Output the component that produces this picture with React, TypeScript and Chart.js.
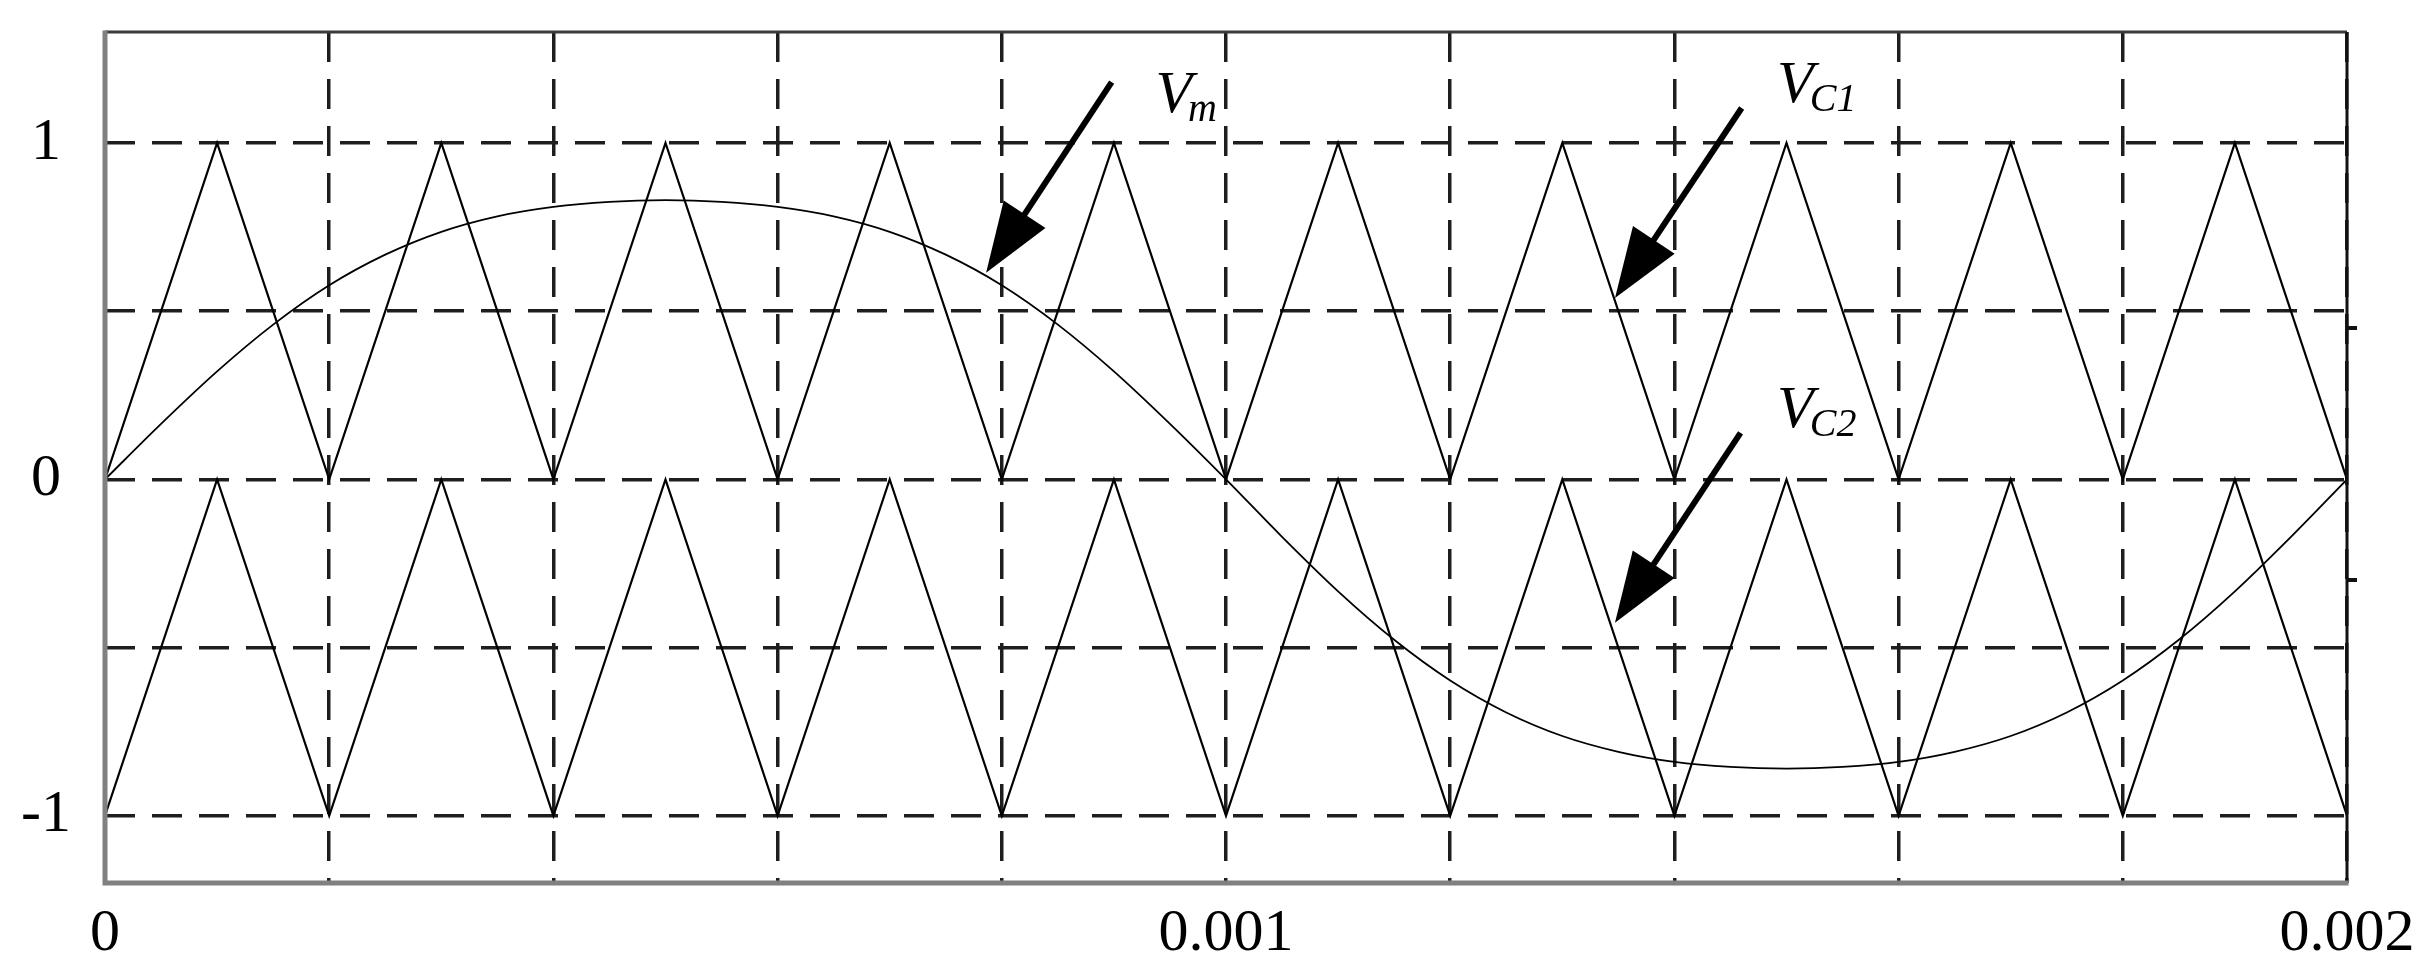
import React, { useEffect, useRef } from 'react';
import { Chart, registerables } from 'chart.js';

Chart.register(...registerables);

// ---- data ----
const carrierTimes = [0, 0.0001, 0.0002, 0.0003, 0.0004, 0.0005, 0.0006, 0.0007, 0.0008, 0.0009, 0.001,
  0.0011, 0.0012, 0.0013, 0.0014, 0.0015, 0.0016, 0.0017, 0.0018, 0.0019, 0.002];
const upperCarrier = [0, 1, 0, 1, 0, 1, 0, 1, 0, 1, 0, 1, 0, 1, 0, 1, 0, 1, 0, 1, 0];
const lowerCarrier = [-1, 0, -1, 0, -1, 0, -1, 0, -1, 0, -1, 0, -1, 0, -1, 0, -1, 0, -1, 0, -1];

const modTimes = [0, 0.00005, 0.0001, 0.00015, 0.0002, 0.00025, 0.0003, 0.00035, 0.0004, 0.00045, 0.0005,
  0.00055, 0.0006, 0.00065, 0.0007, 0.00075, 0.0008, 0.00085, 0.0009, 0.00095, 0.001,
  0.00105, 0.0011, 0.00115, 0.0012, 0.00125, 0.0013, 0.00135, 0.0014, 0.00145, 0.0015,
  0.00155, 0.0016, 0.00165, 0.0017, 0.00175, 0.0018, 0.00185, 0.0019, 0.00195, 0.002];
const modValues = [0, 0.165, 0.321, 0.46, 0.577, 0.668, 0.736, 0.782, 0.81, 0.825, 0.83,
  0.825, 0.81, 0.782, 0.736, 0.668, 0.577, 0.46, 0.321, 0.165, 0,
  -0.171, -0.333, -0.477, -0.598, -0.693, -0.763, -0.81, -0.84, -0.855, -0.86,
  -0.855, -0.84, -0.81, -0.763, -0.693, -0.598, -0.477, -0.333, -0.171, 0];

const xGridValues = [0, 0.0002, 0.0004, 0.0006, 0.0008, 0.001, 0.0012, 0.0014, 0.0016, 0.0018, 0.002];
const xLabelValues = [0, 0.001, 0.002];
const xLabelTexts = ['0', '0.001', '0.002'];
const yGridValues = [-1, -0.5, 0, 0.5, 1];
const yLabelValues = [-1, 0, 1];
const yLabelTexts = ['-1', '0', '1'];
const rightTickValues = [0.45, -0.3];

const arrowSubscripts = ['m', 'C1', 'C2'];
const arrowTailX = [0.000898, 0.00146, 0.001459];
const arrowTailY = [1.181, 1.104, 0.138];
const arrowTipX = [0.000786, 0.001347, 0.001347];
const arrowTipY = [0.614, 0.539, -0.426];
const labelX = [0.000937, 0.0014916, 0.0014916];
const labelY = [1.092, 1.122, 0.156];

const X_MIN = 0;
const X_MAX = 0.002;
const Y_MIN = -1.2;
const Y_MAX = 1.33;

const FONT = 'Liberation Serif';

function labelFor(v: number, vals: number[], texts: string[]) {
  for (let i = 0; i < vals.length; i++) {
    if (Math.abs(vals[i] - v) < 1e-9) return texts[i];
  }
  return '';
}

const framePlugin = {
  id: 'frame',
  afterDatasetsDraw(chart: any) {
    const { ctx, chartArea: a } = chart;
    ctx.save();
    ctx.setLineDash([]);
    // top
    ctx.strokeStyle = '#3a3a3a';
    ctx.lineWidth = 3;
    ctx.beginPath();
    ctx.moveTo(a.left, a.top);
    ctx.lineTo(a.right, a.top);
    ctx.stroke();
    // right
    ctx.strokeStyle = '#111';
    ctx.lineWidth = 3;
    ctx.beginPath();
    ctx.moveTo(a.right, a.top);
    ctx.lineTo(a.right, a.bottom);
    ctx.stroke();
    // left & bottom
    ctx.strokeStyle = '#808080';
    ctx.lineWidth = 5;
    ctx.beginPath();
    ctx.moveTo(a.left, a.top - 1.5);
    ctx.lineTo(a.left, a.bottom);
    ctx.lineTo(a.right + 1.5, a.bottom);
    ctx.stroke();
    ctx.restore();
  },
};

const annotationPlugin = {
  id: 'arrows',
  afterDatasetsDraw(chart: any) {
    const { ctx } = chart;
    const xs = chart.scales.x;
    const ys = chart.scales.y;
    ctx.save();
    ctx.setLineDash([]);
    for (let i = 0; i < arrowSubscripts.length; i++) {
      const tx = xs.getPixelForValue(arrowTailX[i]);
      const ty = ys.getPixelForValue(arrowTailY[i]);
      const px = xs.getPixelForValue(arrowTipX[i]);
      const py = ys.getPixelForValue(arrowTipY[i]);
      const dx = px - tx;
      const dy = py - ty;
      const len = Math.sqrt(dx * dx + dy * dy);
      const ux = dx / len;
      const uy = dy / len;
      const headLen = 70;
      const headHalf = 25;
      const bx = px - ux * headLen;
      const by = py - uy * headLen;
      ctx.strokeStyle = '#000';
      ctx.fillStyle = '#000';
      ctx.lineWidth = 6;
      ctx.lineCap = 'butt';
      ctx.beginPath();
      ctx.moveTo(tx, ty);
      ctx.lineTo(bx + ux * 4, by + uy * 4);
      ctx.stroke();
      ctx.beginPath();
      ctx.moveTo(px, py);
      ctx.lineTo(bx - uy * headHalf, by + ux * headHalf);
      ctx.lineTo(bx + uy * headHalf, by - ux * headHalf);
      ctx.closePath();
      ctx.fill();

      const lx = xs.getPixelForValue(labelX[i]);
      const ly = ys.getPixelForValue(labelY[i]);
      ctx.textBaseline = 'alphabetic';
      ctx.textAlign = 'left';
      ctx.font = `italic 60px "${FONT}"`;
      ctx.fillText('V', lx, ly);
      const w = ctx.measureText('V').width;
      ctx.font = `italic 40px "${FONT}"`;
      ctx.fillText(arrowSubscripts[i], lx + w - 4, ly + 9);
    }
    ctx.restore();
  },
};

export default function App() {
  const ref = useRef<HTMLCanvasElement>(null);

  useEffect(() => {
    const canvas = ref.current;
    if (!canvas) return;
    const lineDs = (label: string, xs: number[], ys: number[], width: number, extra: any = {}) => ({
      label,
      data: xs.map((t, i) => ({ x: t, y: ys[i] })),
      borderColor: '#000',
      borderWidth: width,
      pointRadius: 0,
      fill: false,
      tension: 0,
      ...extra,
    });

    const chart = new Chart(canvas, {
      type: 'line',
      data: {
        datasets: [
          lineDs('VC1', carrierTimes, upperCarrier, 2.2),
          lineDs('VC2', carrierTimes, lowerCarrier, 2.2),
          lineDs('Vm', modTimes, modValues, 1.8, { cubicInterpolationMode: 'monotone' }),
        ],
      },
      options: {
        animation: false,
        responsive: false,
        events: [],
        layout: { padding: { top: 32, left: 0, right: 0, bottom: 0 } },
        plugins: {
          legend: { display: false },
          tooltip: { enabled: false },
          title: { display: false },
        },
        scales: {
          x: {
            type: 'linear',
            position: 'bottom',
            min: X_MIN,
            max: X_MAX,
            afterBuildTicks: (s: any) => {
              s.ticks = xGridValues.map((v) => ({ value: v }));
            },
            afterFit: (s: any) => {
              s.height = 88;
              s.paddingLeft = 0;
              s.paddingRight = 0;
            },
            ticks: {
              autoSkip: false,
              maxRotation: 0,
              minRotation: 0,
              padding: 15,
              color: '#000',
              font: { family: FONT, size: 60 },
              callback: (v: any) => labelFor(Number(v), xLabelValues, xLabelTexts),
            },
            grid: { color: '#1e1e1e', lineWidth: 3.5, drawTicks: false },
            border: { display: false, dash: [30, 17] },
          },
          y: {
            type: 'linear',
            position: 'left',
            min: Y_MIN,
            max: Y_MAX,
            afterBuildTicks: (s: any) => {
              s.ticks = yGridValues.map((v) => ({ value: v }));
            },
            afterFit: (s: any) => {
              s.width = 105;
              s.paddingTop = 0;
              s.paddingBottom = 0;
            },
            ticks: {
              autoSkip: false,
              padding: 34,
              crossAlign: 'center',
              color: '#000',
              font: { family: FONT, size: 60 },
              callback: (v: any) => labelFor(Number(v), yLabelValues, yLabelTexts),
            },
            grid: { color: '#1e1e1e', lineWidth: 3.5, drawTicks: false },
            border: { display: false, dash: [30, 17] },
          },
          y2: {
            type: 'linear',
            position: 'right',
            min: Y_MIN,
            max: Y_MAX,
            afterBuildTicks: (s: any) => {
              s.ticks = rightTickValues.map((v) => ({ value: v }));
            },
            afterFit: (s: any) => {
              s.width = 75;
              s.paddingTop = 0;
              s.paddingBottom = 0;
            },
            ticks: { display: false },
            grid: {
              drawOnChartArea: false,
              drawTicks: true,
              tickLength: 10,
              color: '#111',
              lineWidth: 4,
            },
            border: { display: false },
          },
        },
      } as any,
      plugins: [framePlugin, annotationPlugin],
    });
    return () => chart.destroy();
  }, []);

  return (
    <div style={{ position: 'fixed', left: 0, top: 0, width: 2422, height: 971, background: '#fff' }}>
      <canvas ref={ref} width={2422} height={971} style={{ display: 'block', width: 2422, height: 971 }} />
    </div>
  );
}
